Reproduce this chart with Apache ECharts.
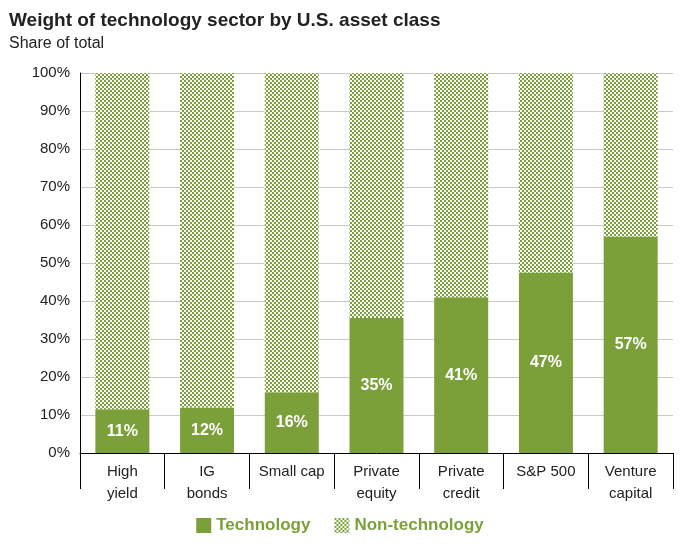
<!DOCTYPE html>
<html>
<head>
<meta charset="utf-8">
<script src="https://cdn.jsdelivr.net/npm/echarts@6/dist/echarts.min.js"></script>
<style>html,body{margin:0;padding:0;background:#fff;}#container{width:680px;height:549px;}</style>
</head>
<body>
<div id="container"></div>
<script>
var categories = ['High\nyield', 'IG\nbonds', 'Small cap', 'Private\nequity', 'Private\ncredit', 'S&P 500', 'Venture\ncapital'];
var techValues = [11.5, 12, 16, 35.5, 41, 47.5, 57];
var techLabels = ['11%', '12%', '16%', '35%', '41%', '47%', '57%'];
var nonTechValues = techValues.map(function (v) { return 100 - v; });

var green = '#7ba03a';
// checkered pattern for non-technology
var cv = document.createElement('canvas');
cv.width = 4; cv.height = 4;
var ctx = cv.getContext('2d');
ctx.fillStyle = '#ffffff';
ctx.fillRect(0, 0, 4, 4);
ctx.fillStyle = green;
ctx.fillRect(0, 0, 2, 2);
ctx.fillRect(2, 2, 2, 2);

var myChart = echarts.init(document.getElementById('container'));
var option = {
    backgroundColor: '#fff',
    textStyle: { fontFamily: 'Liberation Sans, Arial, sans-serif' },
    title: {
        text: 'Weight of technology sector by U.S. asset class',
        subtext: 'Share of total',
        left: 4,
        top: 6,
        itemGap: 6,
        textStyle: { fontSize: 19, fontWeight: 'bold', color: '#222' },
        subtextStyle: { fontSize: 16, color: '#222' }
    },
    legend: {
        bottom: 10,
        left: 'center',
        icon: 'rect',
        itemWidth: 15,
        itemHeight: 15,
        itemGap: 24,
        textStyle: { fontSize: 17, fontWeight: 'bold', color: green },
        data: ['Technology', 'Non-technology']
    },
    grid: { left: 80, right: 7, top: 73, bottom: 96 },
    xAxis: {
        type: 'category',
        data: categories,
        axisLine: { lineStyle: { color: '#000' } },
        axisTick: { show: true, interval: 0, length: 36, lineStyle: { color: '#000' } },
        axisLabel: { interval: 0, color: '#222', fontSize: 15, lineHeight: 22, margin: 8 }
    },
    yAxis: {
        type: 'value',
        min: 0,
        max: 100,
        interval: 10,
        axisLine: { show: true, lineStyle: { color: '#000' } },
        axisTick: { show: false },
        axisLabel: { formatter: '{value}%', color: '#222', fontSize: 15, margin: 10 },
        splitLine: { lineStyle: { color: '#c8c8c8' } }
    },
    series: [
        {
            name: 'Technology',
            type: 'bar',
            stack: 'total',
            barWidth: 54,
            data: techValues,
            itemStyle: { color: green },
            label: {
                show: true,
                position: 'inside',
                formatter: function (p) { return techLabels[p.dataIndex]; },
                color: '#fff',
                fontSize: 16,
                fontWeight: 'bold'
            }
        },
        {
            name: 'Non-technology',
            type: 'bar',
            stack: 'total',
            data: nonTechValues,
            itemStyle: { color: { image: cv, repeat: 'repeat' } }
        }
    ]
};
myChart.setOption(option, true);
</script>
</body>
</html>
